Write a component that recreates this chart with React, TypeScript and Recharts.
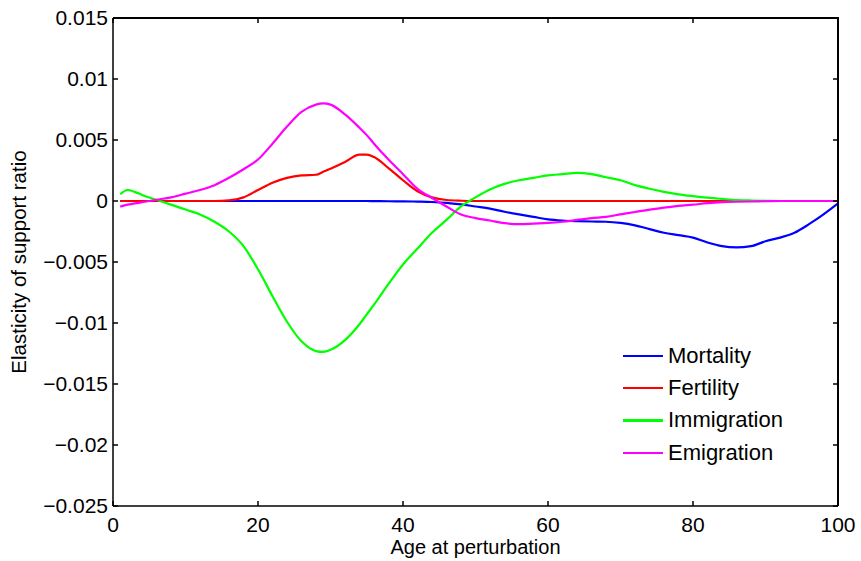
import React from 'react';
import { LineChart, Line, XAxis, YAxis, Legend } from 'recharts';

const ages = [1, 2, 3, 4, 6, 8, 10, 12, 14, 16, 18, 20, 22, 24, 26, 28, 29, 30, 32, 34, 35, 36, 38, 40, 42, 44, 46, 48, 50, 52, 54, 56, 58, 60, 62, 64, 66, 68, 70, 72, 74, 76, 78, 80, 82, 84, 86, 88, 90, 92, 94, 96, 98, 100];

const mortality = [
  0, 0, 0, 0, 0, 0, 0, 0, 0, 0,
  0, 0, 0, 0, 0, 0, 0, 0, 0, 0,
  0, -0.00001, -0.00002, -0.00003, -0.00005, -0.00008, -0.00015, -0.00028, -0.00045, -0.00062,
  -0.00088, -0.0011, -0.0013, -0.0015, -0.0016, -0.00165, -0.00168, -0.0017, -0.0018, -0.002,
  -0.0023, -0.0026, -0.0028, -0.003, -0.0034, -0.0037, -0.0038, -0.0037, -0.0033, -0.003,
  -0.0026, -0.0019, -0.0011, -0.0002,
];

const fertility = [
  0, 0, 0, 0, 0, 0, 0, 0, 0, 0.00005,
  0.0003, 0.0009, 0.0015, 0.0019, 0.0021, 0.00215, 0.0024, 0.00265, 0.0032, 0.0038,
  0.0038, 0.0036, 0.0027, 0.0017, 0.0008, 0.0003, 0.00008, 0.00002, 0, 0,
  0, 0, 0, 0, 0, 0, 0, 0, 0, 0,
  0, 0, 0, 0, 0, 0, 0, 0, 0, 0,
  0, 0, 0, 0,
];

const immigration = [
  0.00055, 0.0009, 0.00075, 0.0005, 0.0001, -0.0003, -0.0007, -0.0011, -0.0017, -0.0025,
  -0.0037, -0.0056, -0.0078, -0.0099, -0.0115, -0.0123, -0.01237, -0.0122, -0.0114, -0.0101,
  -0.0093, -0.0085, -0.0068, -0.0052, -0.0039, -0.0026, -0.00155, -0.00045, 0.0003, 0.00095,
  0.0014, 0.0017, 0.0019, 0.0021, 0.0022, 0.0023, 0.0022, 0.00195, 0.0017, 0.0013,
  0.001, 0.00075, 0.00055, 0.0004, 0.00027, 0.00017, 0.00008, 0.00004, 0.00002, 0,
  0, 0, 0, 0,
];

const emigration = [
  -0.00046, -0.0003, -0.0002, -0.0001, 0.0001, 0.0003, 0.0006, 0.0009, 0.0013, 0.0019,
  0.0026, 0.0034, 0.0047, 0.0061, 0.0073, 0.0079, 0.008, 0.0079, 0.0071, 0.006,
  0.0054, 0.0047, 0.0034, 0.0022, 0.001, 0.00025, -0.00045, -0.0011, -0.0014, -0.0016,
  -0.00182, -0.0019, -0.00185, -0.0018, -0.0017, -0.00155, -0.0014, -0.0013, -0.0011, -0.0009,
  -0.0007, -0.00055, -0.0004, -0.0003, -0.00018, -0.0001, -0.00006, -0.00004, -0.00002, 0,
  0, 0, 0, 0,
];

const xTicks = [0, 20, 40, 60, 80, 100];
const yTicks = [-0.025, -0.02, -0.015, -0.01, -0.005, 0, 0.005, 0.01, 0.015];
const seriesNames = ['Mortality', 'Fertility', 'Immigration', 'Emigration'];
const seriesColors = ['#0000ff', '#ff0000', '#00ff00', '#ff00ff'];
const seriesValues = [mortality, fertility, immigration, emigration];

const data = ages.map((age, i) => {
  const row: Record<string, number> = { age };
  seriesNames.forEach((n, s) => {
    row[n] = seriesValues[s][i];
  });
  return row;
});

const FONT = '"Liberation Sans", Arial, Helvetica, sans-serif';
const CHART_W = 861;
const CHART_H = 561;
const MARGIN = { top: 18, right: 23, bottom: 0, left: 0 };
const Y_AXIS_W = 113;
const X_AXIS_H = 55;
const PLOT_TOP = MARGIN.top;
const PLOT_RIGHT = CHART_W - MARGIN.right;
const PLOT_LEFT = MARGIN.left + Y_AXIS_W;
const PLOT_BOTTOM = CHART_H - MARGIN.bottom - X_AXIS_H;
const TICK_LEN = 5;
const FRAME_W = 2;

const fmtY = (v: number) => (v === 0 ? '0' : (v < 0 ? '\u2212' : '') + String(Math.abs(v)));

const renderLegend = () => (
  <div style={{ fontFamily: FONT, fontSize: 22, color: '#000' }}>
    {seriesNames.map((n, i) => (
      <div key={n} style={{ display: 'flex', alignItems: 'center', height: 32.2 }}>
        <div style={{ width: 40, height: 2.2, background: seriesColors[i], marginRight: 5 }} />
        <span style={{ lineHeight: '32px', whiteSpace: 'nowrap' }}>{n}</span>
      </div>
    ))}
  </div>
);

// bottom tick label + mirrored inward tick on the top edge
const XTick = (p: any) => (
  <g>
    <line x1={p.x} x2={p.x} y1={PLOT_TOP} y2={PLOT_TOP + TICK_LEN} stroke="#000" strokeWidth={1.5} />
    <text x={p.x} y={p.y} dy="0.71em" textAnchor="middle" fill="#000" fontSize={21} fontFamily={FONT}>
      {p.payload.value}
    </text>
  </g>
);

// left tick label + mirrored inward tick on the right edge
const YTick = (p: any) => (
  <g>
    <line x1={PLOT_RIGHT - TICK_LEN} x2={PLOT_RIGHT} y1={p.y} y2={p.y} stroke="#000" strokeWidth={1.5} />
    <text x={p.x} y={p.y} dy="0.355em" textAnchor="end" fill="#000" fontSize={21} fontFamily={FONT}>
      {fmtY(p.payload.value)}
    </text>
  </g>
);

export default function App() {
  return (
    <div style={{ position: 'absolute', left: 0, top: 0, width: CHART_W, height: CHART_H, background: '#fff' }}>
      <LineChart width={CHART_W} height={CHART_H} data={data} margin={MARGIN}>
        <XAxis
          dataKey="age"
          type="number"
          domain={[0, 100]}
          ticks={xTicks}
          allowDataOverflow
          height={X_AXIS_H}
          tickSize={-TICK_LEN}
          tickMargin={16}
          tick={XTick}
          stroke="#000"
          axisLine={{ stroke: '#000', strokeWidth: 1.5 }}
          tickLine={{ stroke: '#000', strokeWidth: 1.5 }}
          label={{ value: 'Age at perturbation', position: 'insideBottom', offset: 7, style: { fontSize: 20, fill: '#000', fontFamily: FONT } }}
        />
        <YAxis
          type="number"
          domain={[-0.025, 0.015]}
          ticks={yTicks}
          allowDataOverflow
          width={Y_AXIS_W}
          tickSize={-TICK_LEN}
          tickMargin={10}
          tick={YTick}
          stroke="#000"
          axisLine={{ stroke: '#000', strokeWidth: 1.5 }}
          tickLine={{ stroke: '#000', strokeWidth: 1.5 }}
          label={{ value: 'Elasticity of support ratio', angle: -90, position: 'insideLeft', offset: 19, style: { textAnchor: 'middle', fontSize: 20.5, fill: '#000', fontFamily: FONT } }}
        />
        {seriesNames.map((n, i) => (
          <Line
            key={n}
            dataKey={n}
            name={n}
            type="monotone"
            stroke={seriesColors[i]}
            strokeWidth={2.2}
            dot={false}
            activeDot={false}
            isAnimationActive={false}
          />
        ))}
        <Legend
          layout="vertical"
          align="center"
          verticalAlign="middle"
          content={renderLegend}
          wrapperStyle={{ position: 'absolute', left: 623, top: 340, width: 220, height: 130 }}
        />
      </LineChart>
      <div
        style={{
          position: 'absolute',
          left: PLOT_LEFT,
          top: PLOT_TOP - FRAME_W / 2,
          width: PLOT_RIGHT - PLOT_LEFT + FRAME_W / 2,
          height: PLOT_BOTTOM - PLOT_TOP + FRAME_W / 2,
          borderTop: `${FRAME_W}px solid #000`,
          borderRight: `${FRAME_W}px solid #000`,
          boxSizing: 'border-box',
          pointerEvents: 'none',
        }}
      />
    </div>
  );
}
